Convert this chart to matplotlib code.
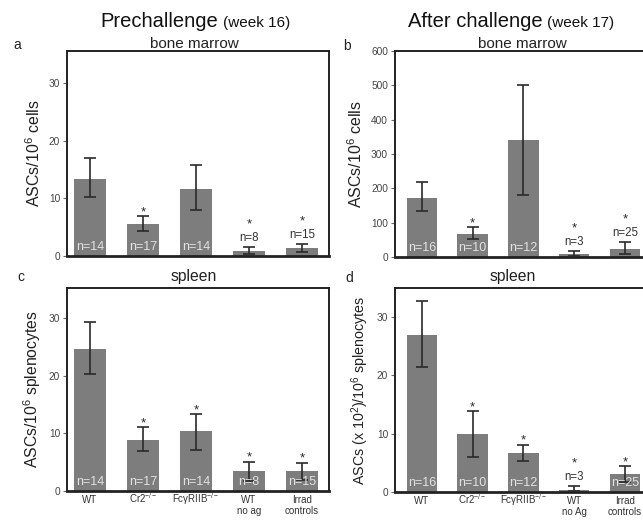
import matplotlib
matplotlib.use("Agg")
import matplotlib.pyplot as plt
import matplotlib.transforms as mtransforms
import numpy as np

plt.rcParams['font.family'] = ['Liberation Sans', 'DejaVu Sans']
plt.rcParams['mathtext.fontset'] = 'custom'
plt.rcParams['mathtext.rm'] = 'Liberation Sans'
plt.rcParams['mathtext.it'] = 'Liberation Sans:italic'

# ---------------- data ----------------
labels_c = ["WT", "Cr2$^{-/-}$", "Fc\u03b3RIIB$^{-/-}$", "WT\nno ag", "Irrad\ncontrols"]
labels_d = ["WT", "Cr2$^{-/-}$", "Fc\u03b3RIIB$^{-/-}$", "WT\nno Ag", "Irrad\ncontrols"]

n_a = [14, 17, 14, 8, 15]
n_b = [16, 10, 12, 3, 25]
n_c = [14, 17, 14, 8, 15]
n_d = [16, 10, 12, 3, 25]

a_mean = [13.4, 5.6, 11.6, 0.8, 1.3]
a_lo = [10.3, 4.3, 7.9, 0.4, 0.7]
a_hi = [16.9, 6.9, 15.7, 1.6, 2.1]

b_mean = [173, 68, 342, 8, 24]
b_lo = [133, 51, 180, 2, 10]
b_hi = [218, 87, 502, 17, 44]

c_mean = [24.7, 8.9, 10.4, 3.5, 3.4]
c_lo = [20.3, 7.0, 7.2, 1.8, 1.9]
c_hi = [29.4, 11.1, 13.4, 5.1, 4.9]

d_mean = [27.0, 9.9, 6.7, 0.4, 3.1]
d_lo = [21.5, 6.0, 5.3, 0.1, 1.8]
d_hi = [32.7, 13.9, 8.1, 1.0, 4.4]

sig_a = [False, True, False, True, True]
sig_b = [False, True, False, True, True]
sig_c = [False, True, True, True, True]
sig_d = [False, True, True, True, True]

inside_a = [True, True, True, False, False]
inside_b = [True, True, True, False, False]
inside_c = [True, True, True, True, True]
inside_d = [True, True, True, False, True]

yticks_small = [0, 10, 20, 30]
yticks_b = [0, 100, 200, 300, 400, 500, 600]

# ---------------- layout ----------------
W, H = 643, 520
fig = plt.figure(figsize=(W / 100, H / 100), dpi=100)


def px_axes(x0, y0, x1, y1):
    return fig.add_axes([x0 / W, 1 - y1 / H, (x1 - x0) / W, (y1 - y0) / H])


def ftext(x, y, s, **kw):
    fig.text(x / W, 1 - y / H, s, **kw)


BAR = '#7d7d7d'
DARK = '#2a2a2a'
N_OFF = 2.0     # points above error-bar top for external n labels
STAR_GAP = 9.8  # extra points for star above external n label


def panel(ax, mean, lo, hi, ns, sig, inside, ylim, yticks, xlim, ylabel, ylsize,
          xlabels=None):
    x = np.arange(len(mean))
    mean = np.array(mean, float)
    lo = np.array(lo, float)
    hi = np.array(hi, float)
    ax.bar(x, mean, width=0.6, color=BAR, zorder=2)
    ax.errorbar(x, mean, yerr=[mean - lo, hi - mean], fmt='none', ecolor=DARK,
                elinewidth=1.2, capsize=4.5, capthick=1.2, zorder=3)
    ax.set_xlim(*xlim)
    ax.set_ylim(*ylim)
    ax.set_yticks(yticks)
    ax.tick_params(axis='y', direction='out', length=3, width=0.8, colors='#666666',
                   labelsize=7.3, labelcolor='#444444', pad=2)
    if xlabels is None:
        ax.set_xticks([])
    else:
        first = [s.split("\n")[0] for s in xlabels]
        ax.set_xticks(x)
        ax.set_xticklabels(first, fontsize=7, color='#333333', va='baseline')
        ax.tick_params(axis='x', length=0, pad=8.8)
        trans = ax.get_xaxis_transform()
        for xi, s in zip(x, xlabels):
            parts = s.split("\n")
            if len(parts) > 1:
                ax.annotate(parts[1], (xi, 0), xycoords=trans, xytext=(0, -8.8 - 7.6),
                            textcoords='offset points', ha='center', va='baseline',
                            fontsize=7, color='#333333', annotation_clip=False)
    for s in ax.spines.values():
        s.set_linewidth(1.4)
        s.set_color('#222222')
    ax.spines['bottom'].set_linewidth(2.0)
    ax.set_ylabel(ylabel, fontsize=ylsize, color='#222222', labelpad=4)
    for i in range(len(mean)):
        if inside[i]:
            ax.text(x[i], 0.045, "n=%d" % ns[i], transform=ax.get_xaxis_transform(),
                    ha='center', va='center', fontsize=9, color='#e2e2e2', zorder=4)
            if sig[i]:
                ax.annotate("*", (x[i], hi[i]), xytext=(0, -1.5), textcoords='offset points',
                            ha='center', va='bottom', fontsize=9.5, color=DARK)
        else:
            ax.annotate("n=%d" % ns[i], (x[i], hi[i]), xytext=(0, N_OFF),
                        textcoords='offset points',
                        ha='center', va='bottom', fontsize=8.3, color='#333333')
            if sig[i]:
                ax.annotate("*", (x[i], hi[i]), xytext=(0, N_OFF + STAR_GAP),
                            textcoords='offset points',
                            ha='center', va='bottom', fontsize=9.5, color=DARK)


xlim_left = (-0.43, 4.51)
xlim_right = (-0.53, 4.63)

ax_a = px_axes(67, 51, 329, 256)
ax_b = px_axes(395, 51, 657, 257)
ax_c = px_axes(67, 288, 329, 491)
ax_d = px_axes(395, 288, 657, 492)

panel(ax_a, a_mean, a_lo, a_hi, n_a, sig_a, inside_a, (0, 35.5), yticks_small, xlim_left,
      "ASCs/10$^6$ cells", 11.5)
panel(ax_b, b_mean, b_lo, b_hi, n_b, sig_b, inside_b, (0, 600), yticks_b, xlim_right,
      "ASCs/10$^6$ cells", 11.5)
panel(ax_c, c_mean, c_lo, c_hi, n_c, sig_c, inside_c, (0, 35.3), yticks_small, xlim_left,
      "ASCs/10$^6$ splenocytes", 11.3, labels_c)
panel(ax_d, d_mean, d_lo, d_hi, n_d, sig_d, inside_d, (0, 35.0), yticks_small, xlim_right,
      "ASCs (x 10$^2$)/10$^6$ splenocytes", 10.3, labels_d)

# titles
ftext(218, 27, "Prechallenge", ha='right', va='baseline', fontsize=14.5, color='#111111')
ftext(223, 27, "(week 16)", ha='left', va='baseline', fontsize=11, color='#111111')
ftext(543, 27, "After challenge", ha='right', va='baseline', fontsize=14.5, color='#111111')
ftext(547, 27, "(week 17)", ha='left', va='baseline', fontsize=11, color='#111111')

ftext(194, 48, "bone marrow", ha='center', va='baseline', fontsize=11, color='#222222')
ftext(522, 48, "bone marrow", ha='center', va='baseline', fontsize=11, color='#222222')
ftext(194, 281, "spleen", ha='center', va='baseline', fontsize=11.3, color='#222222')
ftext(513, 281, "spleen", ha='center', va='baseline', fontsize=11.3, color='#222222')

ftext(17, 45, "a", ha='center', va='center', fontsize=10, color='#222222')
ftext(347, 46, "b", ha='center', va='center', fontsize=10, color='#222222')
ftext(21, 277, "c", ha='center', va='center', fontsize=10, color='#222222')
ftext(349, 278, "d", ha='center', va='center', fontsize=10, color='#222222')

fig.savefig("out.png", dpi=100)
